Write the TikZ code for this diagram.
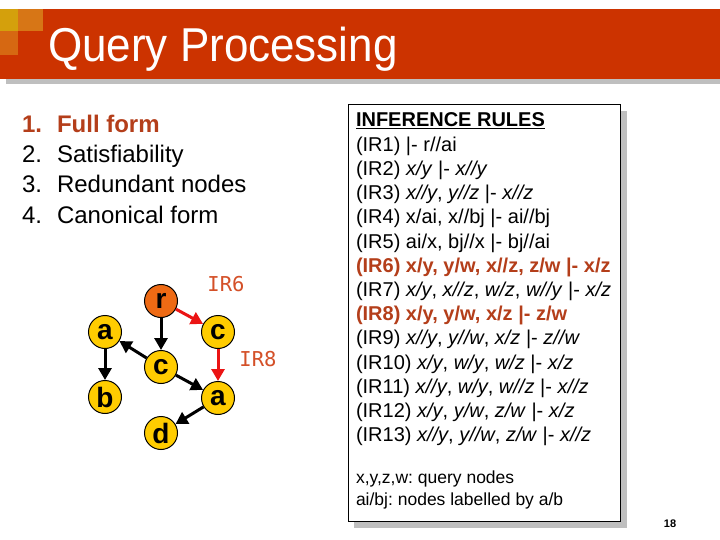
\documentclass[tikz,border=0pt]{standalone}
\usepackage{fontspec}
\setmainfont{Liberation Sans}
\newfontfamily\monof{DejaVu Sans Mono}
\usetikzlibrary{arrows.meta}
\definecolor{banner}{RGB}{204,51,0}
\definecolor{bshadow}{RGB}{191,191,191}
\definecolor{sqgold}{RGB}{212,160,12}
\definecolor{sqorange}{RGB}{215,118,22}
\definecolor{sqorange2}{RGB}{214,104,18}
\definecolor{hilite}{RGB}{180,62,26}
\definecolor{irlab}{RGB}{212,80,40}
\definecolor{nodeyellow}{RGB}{255,204,0}
\definecolor{nodeorange}{RGB}{238,106,20}
\definecolor{redarrow}{RGB}{235,20,20}
\frenchspacing
\begin{document}
\frenchspacing
\begin{tikzpicture}[x=1pt,y=-1pt,
  txt/.style={anchor=base west,inner sep=0pt,outer sep=0pt},
  listtxt/.style={txt,font=\fontsize{24}{28}\selectfont},
  ruletxt/.style={txt,font=\fontsize{20}{24}\selectfont},
  notetxt/.style={txt,font=\fontsize{17.5}{21}\selectfont},
  gnode/.style={circle,draw=black,line width=1pt,fill=nodeyellow,minimum size=33pt,inner sep=0pt,font=\fontsize{28}{28}\selectfont\bfseries},
  rnode/.style={gnode,fill=nodeorange},
  blk/.style={line width=3pt,draw=black,-{Triangle[length=12pt,width=13pt]}},
  red/.style={line width=3pt,draw=redarrow,-{Triangle[length=12pt,width=13pt]}},
  irl/.style={inner sep=0pt,text=irlab,font=\fontsize{20.5}{22}\monof}
]
\useasboundingbox (0,0) rectangle (720,540);
\fill[white] (0,0) rectangle (720,540);
% banner
\fill[bshadow] (6,79) rectangle (720,84);
\fill[banner] (0,9) rectangle (720,79);
\fill[sqgold] (0,9) rectangle (18,31);
\fill[sqorange] (18,9) rectangle (43,31);
\fill[sqorange2] (0,31) rectangle (18,55);
\node[txt,text=white,font=\fontsize{44}{50}\selectfont] (title) at (48,62) {\scalebox{1}[1.08]{Query Processing}};
% list
\node[listtxt,text=hilite,font=\fontsize{24}{28}\selectfont\bfseries] (n1) at (22,133) {1.};
\node[listtxt,text=hilite,font=\fontsize{24}{28}\selectfont\bfseries] (l1) at (57,133) {Full form};
\node[listtxt] (n2) at (22,163) {2.};
\node[listtxt] (l2) at (57,163) {Satisfiability};
\node[listtxt] (n3) at (22,193) {3.};
\node[listtxt] (l3) at (57,193) {Redundant nodes};
\node[listtxt] (n4) at (22,223) {4.};
\node[listtxt] (l4) at (57,223) {Canonical form};
% graph
\node[rnode] (r) at (161,301) {r};
\node[gnode] (al) at (105,332) {a};
\node[gnode] (ct) at (218,332) {c};
\node[gnode] (cm) at (161,367) {c};
\node[gnode] (b) at (105,397) {b};
\node[gnode] (ar) at (218,398) {a};
\node[gnode] (d) at (161,433) {d};
\draw[blk] (r) -- (cm);
\draw[blk] (cm) -- (al);
\draw[blk] (cm) -- (ar);
\draw[blk] (al) -- (b);
\draw[blk] (ar) -- (d);
\draw[red] (r) -- (ct);
\draw[red] (ct) -- (ar);
\node[irl] (ir6) at (226,284) {IR6};
\node[irl] (ir8) at (258,359) {IR8};
% rules box
\fill[bshadow] (354,111) rectangle (627,528);
\draw[black,line width=1pt,fill=white] (348,105) rectangle (620,521) node[pos=0,inner sep=0pt] (box) {};
\node[ruletxt,font=\fontsize{20}{24}\selectfont\bfseries] (rh) at (356,127) {\underline{INFERENCE RULES}};
\node[ruletxt] (r1) at (356,151.2) {(IR1) |- r//ai};
\node[ruletxt] (r2) at (356,175.4) {(IR2) \textit{x/y} |- \textit{x//y}};
\node[ruletxt] (r3) at (356,199.6) {(IR3) \textit{x//y}, \textit{y//z} |- \textit{x//z}};
\node[ruletxt] (r4) at (356,223.8) {(IR4) x/ai, x//bj |- ai//bj};
\node[ruletxt] (r5) at (356,248.0) {(IR5) ai/x, bj//x |- bj//ai};
\node[ruletxt,text=hilite,font=\fontsize{20}{24}\selectfont\bfseries] (r6) at (356,272.2) {(IR6) x/y, y/w, x//z, z/w |- x/z};
\node[ruletxt] (r7) at (356,296.4) {(IR7) \textit{x/y}, \textit{x//z}, \textit{w/z}, \textit{w//y} |- \textit{x/z}};
\node[ruletxt,text=hilite,font=\fontsize{20}{24}\selectfont\bfseries] (r8) at (356,320.6) {(IR8) x/y, y/w, x/z |- z/w};
\node[ruletxt] (r9) at (356,344.8) {(IR9) \textit{x//y}, \textit{y//w}, \textit{x/z} |- \textit{z//w}};
\node[ruletxt] (r10) at (356,369.0) {(IR10) \textit{x/y}, \textit{w/y}, \textit{w/z} |- \textit{x/z}};
\node[ruletxt] (r11) at (356,393.2) {(IR11) \textit{x//y}, \textit{w/y}, \textit{w//z} |- \textit{x//z}};
\node[ruletxt] (r12) at (356,417.4) {(IR12) \textit{x/y}, \textit{y/w}, \textit{z/w} |- \textit{x/z}};
\node[ruletxt] (r13) at (356,441.6) {(IR13) \textit{x//y}, \textit{y//w}, \textit{z/w} |- \textit{x//z}};
\node[notetxt] (f1) at (356,483) {x,y,z,w: query nodes};
\node[notetxt] (f2) at (356,505) {ai/bj: nodes labelled by a/b};
% page number
\node[inner sep=0pt,font=\fontsize{11}{12}\selectfont\bfseries] (pg) at (670,523.5) {18};
\end{tikzpicture}
\end{document}
